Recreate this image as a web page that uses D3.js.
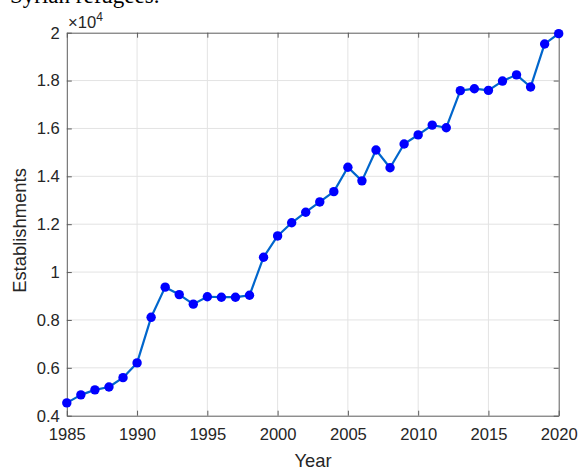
<!DOCTYPE html>
<html>
<head>
<meta charset="utf-8">
<script src="https://cdn.jsdelivr.net/npm/d3@7"></script>
<style>
  html, body { margin: 0; padding: 0; background: #fff; }
  svg { display: block; }
</style>
</head>
<body>
<svg id="chart" width="579" height="470"></svg>
<script>
// Establishments per year, 1985–2020
const years = d3.range(1985, 2021);
const establishments = [
  4535, 4870, 5080, 5200, 5590, 6205, 8110, 9370, 9060, 8660,
  8970, 8950, 8950, 9030, 10620, 11510, 12060, 12500, 12930, 13360,
  14380, 13810, 15100, 14360, 15350, 15730, 16140, 16030, 17580, 17660,
  17590, 17980, 18240, 17730, 19530, 19960
];
const xTicks = [1985, 1990, 1995, 2000, 2005, 2010, 2015, 2020];
const yTicks = [4000, 6000, 8000, 10000, 12000, 14000, 16000, 18000, 20000];
const yTickLabels = ["0.4", "0.6", "0.8", "1", "1.2", "1.4", "1.6", "1.8", "2"];

const svg = d3.select("#chart");
const plotL = 66.8, plotR = 558.7, plotT = 32.7, plotB = 415.7;
const axisColor = "#5c5c5c";
const textColor = "#262626";
const font = "Liberation Sans, Arial, sans-serif";

const x = d3.scaleLinear().domain([1985, 2020]).range([plotL, plotR]);
const y = d3.scaleLinear().domain([4000, 20000]).range([plotB, plotT]);

// caption line above the figure, mostly outside the canvas
svg.append("text")
  .attr("x", 10).attr("y", 2.5)
  .attr("font-family", "Liberation Serif, Times New Roman, serif")
  .attr("font-size", 23)
  .attr("fill", "#000")
  .text("Syrian refugees.");

// grid
const grid = svg.append("g").attr("stroke", "#e3e3e3").attr("stroke-width", 1);
grid.selectAll("line.vx").data(xTicks.slice(1, -1)).join("line")
  .attr("x1", d => x(d)).attr("x2", d => x(d))
  .attr("y1", plotT).attr("y2", plotB);
grid.selectAll("line.hy").data(yTicks.slice(1, -1)).join("line")
  .attr("x1", plotL).attr("x2", plotR)
  .attr("y1", d => y(d)).attr("y2", d => y(d));

// axes with inward ticks on all four sides
const tickLen = 5;
const axB = svg.append("g").attr("transform", `translate(0,${plotB})`)
  .call(d3.axisBottom(x).tickValues(xTicks).tickFormat(d3.format("d")).tickSizeInner(-tickLen).tickSizeOuter(0).tickPadding(13));
const axT = svg.append("g").attr("transform", `translate(0,${plotT})`)
  .call(d3.axisTop(x).tickValues(xTicks).tickFormat("").tickSizeInner(-tickLen).tickSizeOuter(0));
const axL = svg.append("g").attr("transform", `translate(${plotL},0)`)
  .call(d3.axisLeft(y).tickValues(yTicks).tickFormat((d, i) => yTickLabels[i]).tickSizeInner(-tickLen).tickSizeOuter(0).tickPadding(7));
const axR = svg.append("g").attr("transform", `translate(${plotR},0)`)
  .call(d3.axisRight(y).tickValues(yTicks).tickFormat("").tickSizeInner(-tickLen).tickSizeOuter(0));

[axB, axT, axL, axR].forEach(g => {
  g.select(".domain").attr("stroke", axisColor).attr("stroke-width", 1);
  g.selectAll(".tick line").attr("stroke", axisColor).attr("stroke-width", 1);
  g.selectAll("text").attr("fill", textColor).attr("font-family", font).attr("font-size", 16.6);
});

// exponent label
const expo = svg.append("text")
  .attr("x", 68).attr("y", 27.5)
  .attr("font-family", font).attr("font-size", 16.6).attr("fill", textColor);
expo.append("tspan").text("\u00d710");
expo.append("tspan").attr("font-size", 12).attr("dy", -7).text("4");

// axis titles
svg.append("text")
  .attr("x", 313).attr("y", 467.3)
  .attr("text-anchor", "middle")
  .attr("font-family", font).attr("font-size", 18.4).attr("fill", textColor)
  .text("Year");
svg.append("text")
  .attr("transform", "translate(26,230.5) rotate(-90)")
  .attr("text-anchor", "middle")
  .attr("font-family", font).attr("font-size", 18.4).attr("fill", textColor)
  .text("Establishments");

// series line and markers
const pts = years.map((yr, i) => [yr, establishments[i]]);
svg.append("path")
  .datum(pts)
  .attr("fill", "none")
  .attr("stroke", "#0066cc")
  .attr("stroke-width", 2.2)
  .attr("stroke-linejoin", "round")
  .attr("d", d3.line().x(d => x(d[0])).y(d => y(d[1])));
svg.append("g").selectAll("circle").data(pts).join("circle")
  .attr("cx", d => x(d[0])).attr("cy", d => y(d[1]))
  .attr("r", 4.7)
  .attr("fill", "#0000ff");
</script>
</body>
</html>
